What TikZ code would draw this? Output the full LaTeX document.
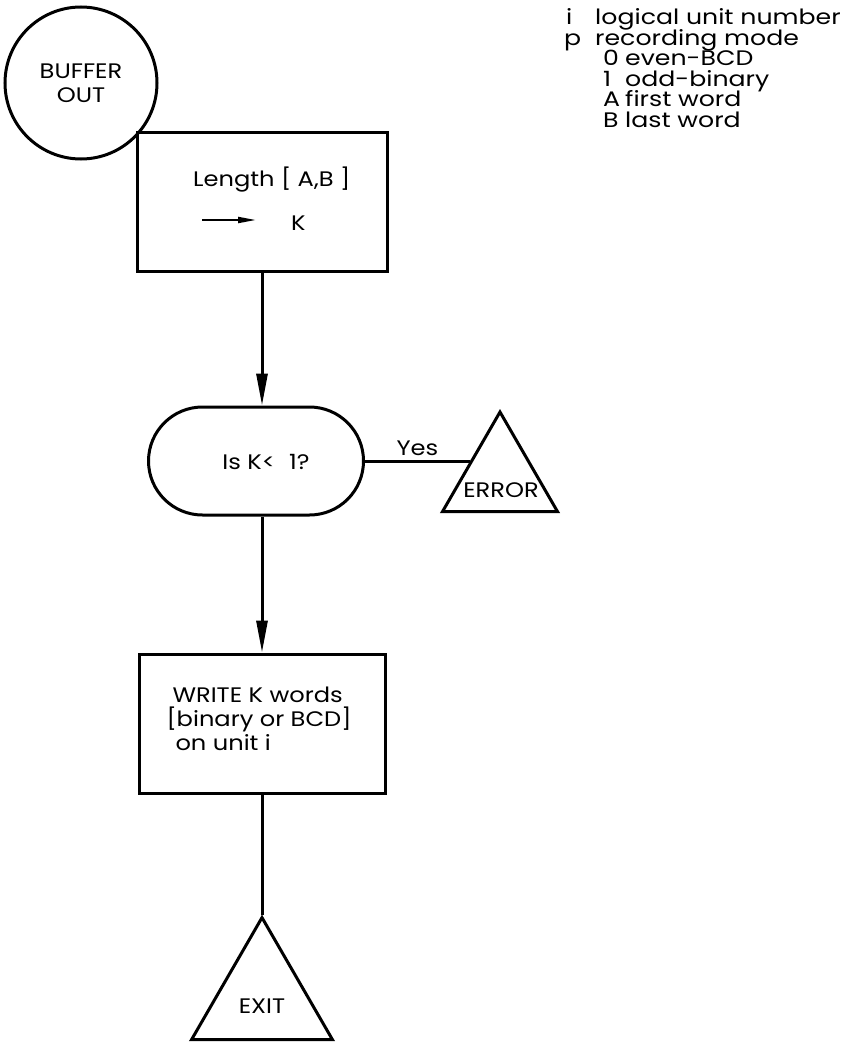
\documentclass[tikz,border=0pt]{standalone}
\usepackage{fontspec}
\setmainfont[FakeStretch=1.15]{Poppins}
\newfontfamily\legendfont[FakeStretch=1.2]{Poppins}
\usetikzlibrary{arrows.meta,shapes.geometric,shapes.misc}
\begin{document}
\begin{tikzpicture}[x=1pt,y=-1pt,
  every node/.style={font=\fontsize{21}{24}\selectfont},
  outline/.style={draw, line width=3pt},
  link/.style={line width=3pt},
  flow/.style={link, -{Triangle[length=32pt,width=11pt]}},
  terminal/.style={outline, circle, inner sep=0pt, align=center},
  procbox/.style={outline, rectangle, inner sep=0pt},
  decision/.style={outline, rounded rectangle, inner sep=0pt},
  connector/.style={outline, regular polygon, regular polygon sides=3, inner sep=0pt},
  legend/.style={anchor=base west, inner sep=0pt, font=\legendfont\fontsize{21}{24}\selectfont}
]
\path[use as bounding box] (0,0) rectangle (845,1043);

% entry point
\node[terminal, minimum size=152pt] (start) at (81,83) {BUFFER\\OUT};

% length of the buffer
\node[procbox, minimum width=250pt, minimum height=139pt] (len) at (262,202) {};
\node[anchor=base west, inner sep=0pt] (lentxt) at (193,186) {Length [ A,B ]};
\coordinate (asg1) at (202,220);
\coordinate (asg2) at (256,220);
\draw[line width=2pt, -{Triangle[length=18pt,width=6pt]}] (asg1) -- (asg2);
\node[anchor=base west, inner sep=0pt] (lenk) at (291,230) {K};

% test on the length
\node[decision, minimum width=215pt, minimum height=108pt] (dec) at (256,461) {};
\node (dectxt) at (266,462) {Is K<\hspace{14pt}1?};
\draw[flow] (len.south) -- (len.south |- dec.north);

% error exit
\node[connector, minimum size=132.8pt] (err) at (500,478.4) {};
\node (errtxt) at (501,490) {ERROR};
\draw[link] (dec.east) -- (dec.east -| err.side 1) node[midway, above] (yes) {Yes};

% write step
\node[procbox, minimum width=246pt, minimum height=139pt] (write) at (262,723.5) {};
\node[align=left] (writetxt) at (259,719) {\hspace{6pt}WRITE K words\\{[binary or BCD]}\\\hspace{9pt}on unit i};
\draw[flow] (len.south |- dec.south) -- (len.south |- write.north);

% normal exit
\node[connector, minimum size=162.8pt] (exit) at (262,999) {};
\node (exittxt) at (262,1006) {EXIT};
\draw[link] (write.south) -- (exit.corner 1);

% parameter legend
\node[legend] (li) at (566,25) {i};
\node[legend] (lit) at (595,25) {logical unit number};
\node[legend] (lp) at (564,46) {p};
\node[legend] (lpt) at (595,46) {recording mode};
\node[legend] (l0) at (603,66) {0};
\node[legend] (l0t) at (625,66) {even-BCD};
\node[legend] (l1) at (603,87) {1};
\node[legend] (l1t) at (625,87) {odd-binary};
\node[legend] (la) at (603,107) {A};
\node[legend] (lat) at (625,107) {first word};
\node[legend] (lb) at (603,128) {B};
\node[legend] (lbt) at (625,128) {last word};
\end{tikzpicture}
\end{document}
